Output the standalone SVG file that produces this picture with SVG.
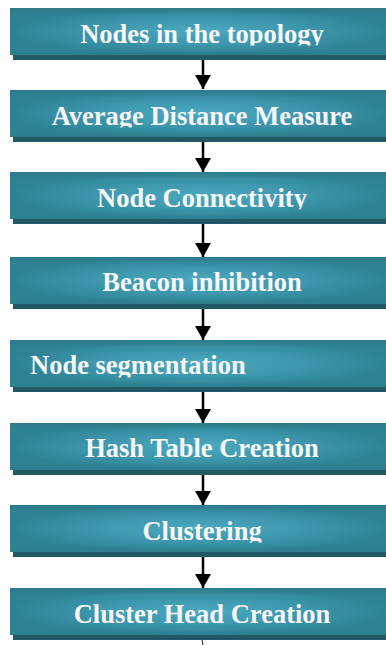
<svg xmlns="http://www.w3.org/2000/svg" width="386" height="645" viewBox="0 0 386 645">
  <defs>
    <radialGradient id="boxGlow" cx="0.5" cy="0.5" r="0.5">
      <stop offset="0" stop-color="#4aa9c0"/>
      <stop offset="0.55" stop-color="#3e97ad"/>
      <stop offset="1" stop-color="#2f8295"/>
    </radialGradient>
    <linearGradient id="boxEdge" x1="0" y1="0" x2="0" y2="1">
      <stop offset="0" stop-color="#2a7485" stop-opacity="0.6"/>
      <stop offset="0.15" stop-color="#2a7485" stop-opacity="0"/>
      <stop offset="0.85" stop-color="#2a7485" stop-opacity="0"/>
      <stop offset="1" stop-color="#2a7485" stop-opacity="0.35"/>
    </linearGradient>
    <clipPath id="labelClip" clipPathUnits="userSpaceOnUse">
      <rect x="0" y="0" width="386" height="37.5"/>
    </clipPath>
    <marker id="head" viewBox="0 0 14 16" refX="14" refY="8" markerWidth="14" markerHeight="16" markerUnits="userSpaceOnUse" orient="auto">
      <path d="M0,0 L14,8 L0,16 Z" fill="#000"/>
    </marker>
  </defs>
  <style>
    .shadow { fill: #215a66; }
    .box { fill: url(#boxGlow); }
    .edge { fill: url(#boxEdge); }
    .label { font-family: "Liberation Serif", "Times New Roman", serif; font-weight: bold; font-size: 26.5px; fill: #f6f6f6; }
    .conn { stroke: #000; stroke-width: 2.5; fill: none; }
  </style>

  <g id="connectors">
    <line class="conn" x1="203" y1="55" x2="203" y2="89" marker-end="url(#head)"/>
    <line class="conn" x1="203" y1="137" x2="203" y2="172" marker-end="url(#head)"/>
    <line class="conn" x1="203" y1="219" x2="203" y2="257" marker-end="url(#head)"/>
    <line class="conn" x1="203" y1="304" x2="203" y2="340" marker-end="url(#head)"/>
    <line class="conn" x1="203" y1="387" x2="203" y2="423" marker-end="url(#head)"/>
    <line class="conn" x1="203" y1="470" x2="203" y2="505" marker-end="url(#head)"/>
    <line class="conn" x1="203" y1="552" x2="203" y2="588" marker-end="url(#head)"/>
    <line x1="202" y1="640" x2="203" y2="645" stroke="#222" stroke-width="1"/>
  </g>

  <g id="n1" transform="translate(0,8)">
    <rect class="shadow" x="13" y="5" width="380" height="47"/>
    <rect class="box" x="10" y="0" width="380" height="47"/>
    <rect class="edge" x="10" y="0" width="380" height="47"/>
    <text class="label" x="202" y="35" text-anchor="middle" clip-path="url(#labelClip)">Nodes in the topology</text>
  </g>

  <g id="n2" transform="translate(0,90)">
    <rect class="shadow" x="13" y="5" width="380" height="47"/>
    <rect class="box" x="10" y="0" width="380" height="47"/>
    <rect class="edge" x="10" y="0" width="380" height="47"/>
    <text class="label" x="202" y="35" text-anchor="middle" clip-path="url(#labelClip)">Average Distance Measure</text>
  </g>

  <g id="n3" transform="translate(0,172)">
    <rect class="shadow" x="13" y="5" width="380" height="47"/>
    <rect class="box" x="10" y="0" width="380" height="47"/>
    <rect class="edge" x="10" y="0" width="380" height="47"/>
    <text class="label" x="202" y="35" text-anchor="middle" clip-path="url(#labelClip)">Node Connectivity</text>
  </g>

  <g id="n4" transform="translate(0,257)">
    <rect class="shadow" x="13" y="5" width="380" height="47"/>
    <rect class="box" x="10" y="0" width="380" height="47"/>
    <rect class="edge" x="10" y="0" width="380" height="47"/>
    <text class="label" x="202" y="34" text-anchor="middle" clip-path="url(#labelClip)">Beacon inhibition</text>
  </g>

  <g id="n5" transform="translate(0,340)">
    <rect class="shadow" x="13" y="5" width="380" height="47"/>
    <rect class="box" x="10" y="0" width="380" height="47"/>
    <rect class="edge" x="10" y="0" width="380" height="47"/>
    <text class="label" x="30" y="34" clip-path="url(#labelClip)">Node segmentation</text>
  </g>

  <g id="n6" transform="translate(0,423)">
    <rect class="shadow" x="13" y="5" width="380" height="47"/>
    <rect class="box" x="10" y="0" width="380" height="47"/>
    <rect class="edge" x="10" y="0" width="380" height="47"/>
    <text class="label" x="202" y="34" text-anchor="middle" clip-path="url(#labelClip)">Hash Table Creation</text>
  </g>

  <g id="n7" transform="translate(0,505)">
    <rect class="shadow" x="13" y="5" width="380" height="47"/>
    <rect class="box" x="10" y="0" width="380" height="47"/>
    <rect class="edge" x="10" y="0" width="380" height="47"/>
    <text class="label" x="202" y="35" text-anchor="middle" clip-path="url(#labelClip)">Clustering</text>
  </g>

  <g id="n8" transform="translate(0,588)">
    <rect class="shadow" x="13" y="5" width="380" height="47"/>
    <rect class="box" x="10" y="0" width="380" height="47"/>
    <rect class="edge" x="10" y="0" width="380" height="47"/>
    <text class="label" x="202" y="35" text-anchor="middle" clip-path="url(#labelClip)">Cluster Head Creation</text>
  </g>
</svg>
